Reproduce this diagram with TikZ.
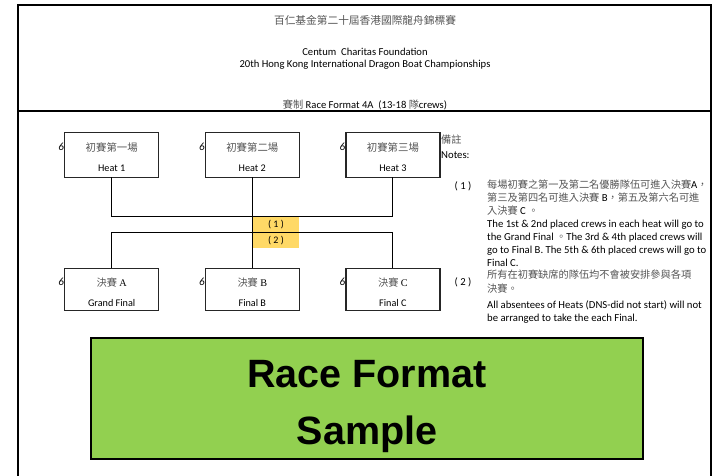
\documentclass[tikz,border=0pt]{standalone}
\usepackage{fontspec}
\usetikzlibrary{positioning}
\setmainfont{Carlito}
\newfontfamily\cjkfont{Noto Sans CJK TC}
\newfontfamily\serffont{Liberation Serif}
\newfontfamily\boldfont{Liberation Sans}
\definecolor{cellyellow}{HTML}{FFD966}
\definecolor{bannergreen}{HTML}{92D050}
\definecolor{zhgray}{HTML}{555555}
\newcommand{\zh}[1]{{\cjkfont\fontsize{10.2}{13}\selectfont\color{zhgray}#1}}
\newcommand{\boxtext}[2]{\rule{0pt}{14pt}#1\\[9pt]#2}
\tikzstyle{racebox} = [draw=black!85, line width=1.3pt, rectangle, minimum width=94pt,
    inner sep=0, outer sep=0, align=center, font=\fontsize{10.2}{11}\selectfont]
\tikzstyle{heatbox} = [racebox, minimum height=44.5pt]
\tikzstyle{finalbox} = [racebox, minimum height=42.5pt]
\tikzstyle{crewcount} = [font=\fontsize{11}{11}\selectfont\itshape, inner sep=0, left=0.5pt]
\tikzstyle{cellbox} = [fill=cellyellow, minimum width=46.5pt, minimum height=15.7pt, inner sep=0,
    font=\fontsize{10}{11}\selectfont]
\tikzstyle{frameline} = [line width=2pt, black]
\tikzstyle{notetext} = [anchor=north west, inner sep=0, align=left, font=\fontsize{10.7}{13}\selectfont]
\tikzstyle{headtext} = [inner sep=0, font=\fontsize{10.6}{13}\selectfont]

\begin{document}
\begin{tikzpicture}[x=1pt,y=-1pt]
\useasboundingbox (0,0) rectangle (715,476);
% outer frame
\draw[frameline] (18,476) -- (18,5.5) -- (711,5.5) -- (711,476);
\draw[frameline] (18,111.5) -- (711,111.5);
% header
\node [headtext] (titlezh) at (365,20) {\zh{\fontsize{10.7}{13}\selectfont 百仁基金第二十屆香港國際龍舟錦標賽}};
\node [headtext] (titleorg) at (365,51.5) {Centum\ \ Charitas Foundation};
\node [headtext] (titleevent) at (365,64.5) {20th Hong Kong International Dragon Boat Championships};
\node [headtext] (titleformat) at (365,105) {\zh{賽制} Race Format 4A\ \ (13-18 \zh{隊}crews)};
% heats
\node [heatbox] (heat1) at (111.7,155) {\boxtext{\zh{\fontsize{10.4}{11}\selectfont 初賽第一場}}{Heat 1}};
\node [heatbox, right=46.6pt of heat1] (heat2) {\boxtext{\zh{\fontsize{10.4}{11}\selectfont 初賽第二場}}{Heat 2}};
\node [heatbox, right=46.6pt of heat2] (heat3) {\boxtext{\zh{\fontsize{10.4}{11}\selectfont 初賽第三場}}{Heat 3}};
% finals
\node [finalbox] (final1) at (111.7,289.5) {\boxtext{\zh{決賽} {\serffont A}}{Grand Final}};
\node [finalbox, right=46.6pt of final1] (final2) {\boxtext{\zh{決賽} {\serffont B}}{Final B}};
\node [finalbox, right=46.6pt of final2] (final3) {\boxtext{\zh{決賽} {\serffont C}}{Final C}};
% crew numbers
\foreach \boxname in {heat1,heat2,heat3,final1,final2,final3}{
    \node [crewcount] (count\boxname) at ([yshift=8pt]\boxname.west) {6};
}
% yellow cells
\node [cellbox] (cellone) at (276,224.2) {( 1 )};
\node [cellbox, below=0pt of cellone] (celltwo) {( 2 )};
% connectors
\coordinate (upperjoin) at (252.3,216);
\coordinate (lowerjoin) at (252.3,232.2);
\draw[line width=1pt] (heat1) |- (upperjoin);
\draw[line width=1pt] (heat3) |- (upperjoin);
\draw[line width=1pt] (final1) |- (lowerjoin);
\draw[line width=1pt] (final3) |- (lowerjoin);
\draw[line width=1pt] (heat2) -- (final2);
% notes
\node [notetext] (noteshead) at (441,135) {\zh{備註}\\[2pt]Notes:};
\node [notetext, anchor=center] (noteone) at (463,186) {( 1 )};
\node [notetext, anchor=center] (notetwo) at (463,282) {( 2 )};
\node [notetext] (notezhone) at (487,180) {\zh{每場初賽之第一及第二名優勝隊伍可進入決賽}A\zh{，}\\
    \zh{第三及第四名可進入決賽} B\zh{，第五及第六名可進}\\
    \zh{入決賽} C \zh{。}};
\node [notetext] (noteenone) at (487,219.5) {The 1st \& 2nd placed crews in each heat will go to\\
    the Grand Final \zh{。}The 3rd \& 4th placed crews will\\
    go to Final B. The 5th \& 6th placed crews will go to\\
    Final C.};
\node [notetext] (notezhtwo) at (487,270) {\zh{所有在初賽缺席的隊伍均不會被安排參與各項}\\[0.5pt]
    \zh{決賽。}};
\node [notetext] (noteentwo) at (487,300) {All absentees of Heats (DNS-did not start) will not\\
    be arranged to take the each Final.};
% banner
\node [draw=black, line width=1.3pt, fill=bannergreen, minimum width=552pt, minimum height=121pt,
    inner sep=0, align=center, font=\fontsize{39.5}{57}\selectfont\boldfont\bfseries] (banner) at (367,398.5)
    {\rule{0pt}{44pt}Race Format\\Sample};
\end{tikzpicture}
\end{document}
